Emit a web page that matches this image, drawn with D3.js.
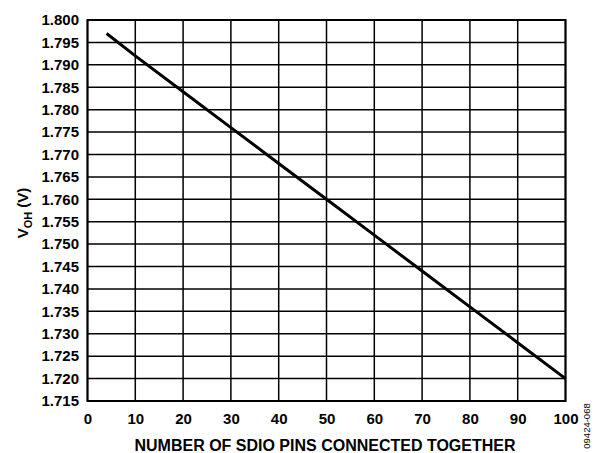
<!DOCTYPE html>
<html><head><meta charset="utf-8">
<script src="https://cdn.jsdelivr.net/npm/d3@7"></script>
<style>body{margin:0;background:#fff}svg{display:block}</style>
</head><body>
<svg id="c" width="598" height="453"></svg>
<script>
const pins = [4, 10, 20, 30, 40, 50, 60, 70, 80, 90, 100];
const voh  = [1.7970, 1.7920, 1.7840, 1.7760, 1.7680, 1.7600, 1.7520, 1.7440, 1.7360, 1.7280, 1.7200];
const xTicks = [0, 10, 20, 30, 40, 50, 60, 70, 80, 90, 100];
const yTicks = d3.range(0, 18).map(i => +(1.715 + i * 0.005).toFixed(3));

const svg = d3.select("#c");
const L = 87.5, R = 565.5, T = 20, B = 401;
const x = d3.scaleLinear().domain([0, 100]).range([L, R]);
const y = d3.scaleLinear().domain([1.715, 1.800]).range([B, T]);
const font = "Arial, 'Liberation Sans', Helvetica, sans-serif";

// grid
svg.append("g").selectAll("line").data(xTicks).join("line")
  .attr("x1", d => x(d)).attr("x2", d => x(d)).attr("y1", T).attr("y2", B)
  .attr("stroke", "#000").attr("stroke-width", 1.5);
svg.append("g").selectAll("line").data(yTicks).join("line")
  .attr("y1", d => y(d)).attr("y2", d => y(d)).attr("x1", L).attr("x2", R)
  .attr("stroke", "#000").attr("stroke-width", 1.5);
svg.append("rect").attr("x", L).attr("y", T).attr("width", R - L).attr("height", B - T)
  .attr("fill", "none").attr("stroke", "#000").attr("stroke-width", 2);

// axes labels
const xa = svg.append("g").attr("transform", `translate(0,${B})`)
  .call(d3.axisBottom(x).tickValues(xTicks).tickSize(0).tickPadding(12).tickFormat(d3.format("d")));
xa.select(".domain").remove();
xa.selectAll("text").attr("font-family", font).attr("font-weight", "bold").attr("font-size", 15).attr("fill", "#000");

const ya = svg.append("g").attr("transform", `translate(${L},0)`)
  .call(d3.axisLeft(y).tickValues(yTicks).tickSize(0).tickPadding(8.5).tickFormat(d3.format(".3f")));
ya.select(".domain").remove();
ya.selectAll("text").attr("font-family", font).attr("font-weight", "bold").attr("font-size", 15).attr("fill", "#000");

// data line
svg.append("path").datum(pins.map((p, i) => [p, voh[i]]))
  .attr("d", d3.line().x(d => x(d[0])).y(d => y(d[1])))
  .attr("fill", "none").attr("stroke", "#000").attr("stroke-width", 3);

// titles
svg.append("text").attr("x", 325).attr("y", 451).attr("text-anchor", "middle")
  .attr("font-family", font).attr("font-weight", "bold").attr("font-size", 16)
  .text("NUMBER OF SDIO PINS CONNECTED TOGETHER");

const yt = svg.append("text").attr("transform", "translate(28,213) rotate(-90)")
  .attr("text-anchor", "middle").attr("font-family", font).attr("font-weight", "bold").attr("font-size", 15);
yt.append("tspan").text("V");
yt.append("tspan").attr("font-size", 11).attr("dy", 4).text("OH");
yt.append("tspan").attr("dy", -4).text(" (V)");

svg.append("text").attr("transform", "translate(590,426) rotate(-90)")
  .attr("text-anchor", "middle").attr("font-family", font).attr("font-size", 9.5)
  .text("09424-068");
</script>
</body></html>
